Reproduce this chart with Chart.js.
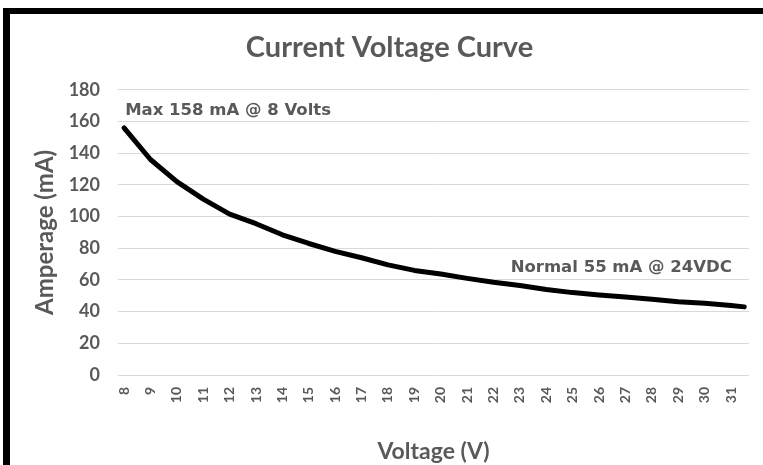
<!DOCTYPE html>
<html>
<head>
<meta charset="utf-8">
<script src="https://cdn.jsdelivr.net/npm/chart.js@4.4.1/dist/chart.umd.min.js"></script>
<style>
  html, body { margin: 0; padding: 0; background: #fff; overflow: hidden; }
  #wrap { position: absolute; left: 0; top: 0; width: 763px; height: 465px; }
  #frame { position: absolute; left: 3px; top: 8px; width: 800px; height: 500px;
           border-top: 6px solid #000; border-left: 7px solid #000; pointer-events: none; }
</style>
</head>
<body>
<div id="wrap"><canvas id="ivChart"></canvas></div>
<div id="frame"></div>
<script>
var volts = [8, 9, 10, 11, 12, 13, 14, 15, 16, 17, 18, 19, 20, 21, 22, 23, 24, 25, 26, 27, 28, 29, 30, 31, 31.5];
var amps  = [156, 136, 122, 111, 101.5, 95.5, 88.5, 83, 78, 74, 69.5, 66, 63.8, 61, 58.5, 56.5, 54, 52, 50.5, 49.3, 47.8, 46.3, 45.3, 43.8, 43];
var xTicks = [8, 9, 10, 11, 12, 13, 14, 15, 16, 17, 18, 19, 20, 21, 22, 23, 24, 25, 26, 27, 28, 29, 30, 31];
var noteTexts = ['Max 158 mA @ 8 Volts', 'Normal 55 mA @ 24VDC'];

var grey = '#595959';
var points = [];
for (var i = 0; i < volts.length; i++) {
  points.push({x: volts[i], y: amps[i]});
}

// draws the two text callouts at data positions
const notePlugin = {
  id: 'notes',
  afterDatasetsDraw(chart, args, opts) {
    const ctx = chart.ctx, x = chart.scales.x, y = chart.scales.y;
    ctx.save();
    ctx.font = opts.font;
    ctx.fillStyle = opts.color;
    ctx.textBaseline = 'middle';
    opts.items.forEach(function (n) {
      ctx.textAlign = n.align;
      ctx.fillText(n.text, x.getPixelForValue(n.x), y.getPixelForValue(n.y));
    });
    ctx.restore();
  }
};

const ivChart = new Chart(document.getElementById('ivChart'), {
  type: 'line',
  data: {
    datasets: [{
      data: points,
      borderColor: '#000',
      borderWidth: 5,
      borderCapStyle: 'round',
      borderJoinStyle: 'round',
      pointRadius: 0,
      tension: 0,
      fill: false
    }]
  },
  options: {
    responsive: true,
    maintainAspectRatio: false,
    animation: false,
    layout: { padding: { left: 30, right: 14, top: 0, bottom: 0 } },
    plugins: {
      legend: { display: false },
      tooltip: { enabled: false },
      title: {
        display: true,
        text: 'Current Voltage Curve',
        color: grey,
        font: { family: 'Lato', size: 29, weight: 'bold' },
        padding: { top: 30, bottom: 25 }
      },
      notes: {
        font: 'bold 16.5px "DejaVu Sans"',
        color: grey,
        items: [
          { text: noteTexts[0], x: 8.04, y: 166.5, align: 'left' },
          { text: noteTexts[1], x: 31.03, y: 67.5, align: 'right' }
        ]
      }
    },
    scales: {
      x: {
        type: 'linear',
        min: 7.77,
        max: 31.68,
        afterBuildTicks: function (scale) {
          scale.ticks = xTicks.map(function (v) { return { value: v }; });
        },
        afterFit: function (scale) { scale.height = 90; },
        grid: { display: false, drawTicks: false },
        border: { display: false },
        ticks: {
          minRotation: 90,
          maxRotation: 90,
          autoSkip: false,
          padding: 12,
          color: grey,
          font: { family: 'Lato', size: 14, weight: 'bold' }
        },
        title: {
          display: true,
          text: 'Voltage (V)',
          color: grey,
          font: { family: 'Lato', size: 23, weight: 'bold' },
          padding: { top: 0, bottom: 0 }
        }
      },
      y: {
        min: 0,
        max: 180,
        afterFit: function (scale) { scale.width = 88; },
        grid: { color: '#d9d9d9', lineWidth: 1, drawTicks: false },
        border: { display: false },
        ticks: {
          stepSize: 20,
          padding: 18,
          color: grey,
          font: { family: 'Lato', size: 18, weight: 'bold' }
        },
        title: {
          display: true,
          text: 'Amperage (mA)',
          color: grey,
          font: { family: 'Lato', size: 24, weight: 'bold' },
          padding: { top: 1, bottom: 0 }
        }
      }
    }
  },
  plugins: [notePlugin]
});
</script>
</body>
</html>
